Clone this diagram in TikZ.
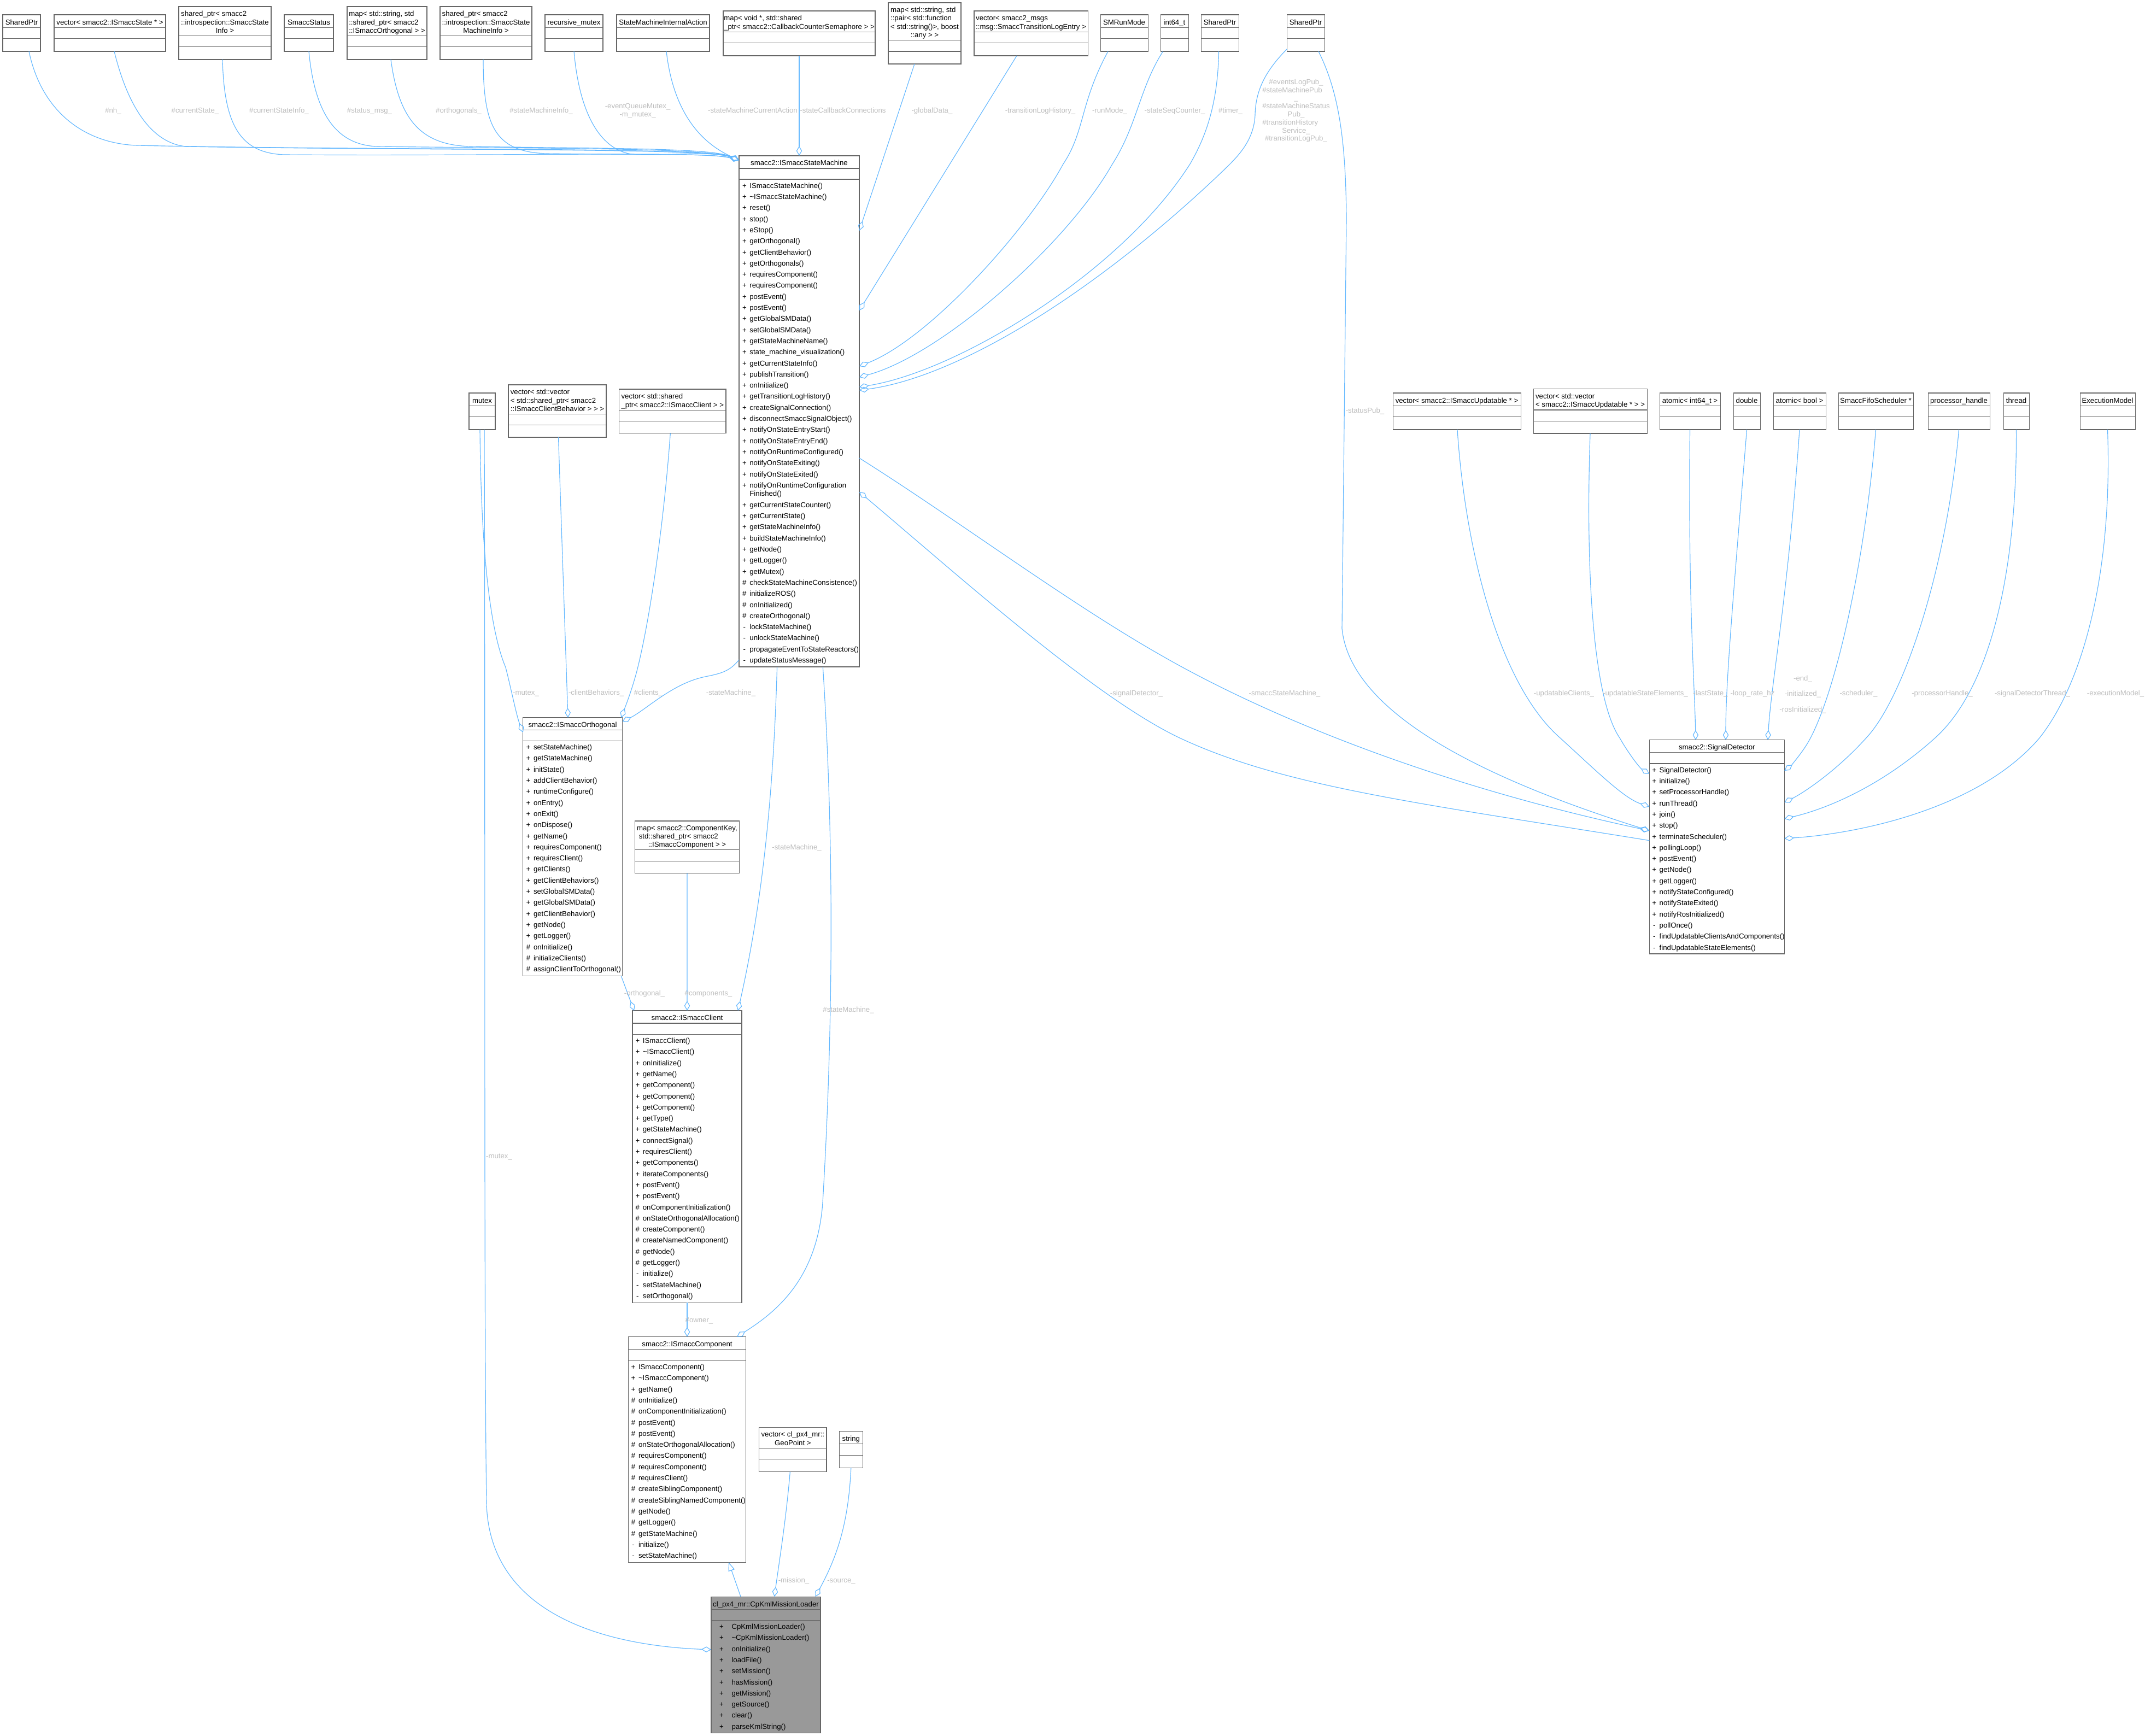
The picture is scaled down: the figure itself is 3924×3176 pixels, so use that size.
\documentclass[tikz,border=0pt]{standalone}
\usepackage{fontspec}
\setmainfont{Liberation Sans}
\usetikzlibrary{arrows.meta,calc}
\definecolor{edgec}{HTML}{63B8FF}
\definecolor{boxc}{HTML}{666666}
\definecolor{labc}{HTML}{BEBEBE}
\definecolor{mainfill}{HTML}{999999}
\newcommand\mrow[2]{\makebox[8pt][c]{#1}\hspace{5.5pt}#2}
\newcommand\krow[2]{\makebox[8pt][c]{#1}\hspace{14.6pt}#2}
\newcommand\mcont[1]{\makebox[13.5pt]{}#1}
\newcommand\lc[1]{\multicolumn{1}{@{}c@{}}{#1}}
\tikzset{
 boxshape/.style={draw=boxc, line width=1.05pt, fill=white, inner sep=0pt, outer sep=0pt, rectangle},
 boxrule/.style={draw=boxc, line width=1.05pt},
 titletext/.style={inner sep=0pt, font=\fontsize{13.2}{15.3}\selectfont},
 methtext/.style={inner sep=0pt, align=left, anchor=north west, font=\fontsize{13.2}{20.3}\selectfont},
 elabel/.style={inner sep=0pt, text=labc, font=\fontsize{13.2}{14.8}\selectfont, text height=9.5pt, text depth=0pt},
 elabelm/.style={inner sep=0pt, text=labc, font=\fontsize{13.2}{14.8}\selectfont},
 edge/.style={draw=edgec, line width=1.15pt},
 agg/.style={edge, -{Diamond[open,length=18pt,width=10.5pt]}},
 inh/.style={edge, -{Triangle[open,length=16pt,width=12pt]}},
}
% [style]{name}{x1}{y1}{x2}{y2}{title h}{attr h}{title}
\newcommand\ubox[9][]{%
 \node[boxshape,#1,anchor=north west,minimum width={(#5-#3)*1pt},minimum height={(#6-#4)*1pt}] (#2) at (#3,#4) {};
 \draw[boxrule] ($(#2.north west)+(0,#7)$) -- ($(#2.north east)+(0,#7)$);
 \draw[boxrule] ($(#2.north west)+(0,#7+#8)$) -- ($(#2.north east)+(0,#7+#8)$);
 \node[titletext] (#2t) at ($(#2.north)+(0,#7/2+3.3)$) {\begin{tabular}{@{}l@{}}#9\end{tabular}};
}
\begin{document}
\begin{tikzpicture}[x=1pt,y=-1pt]
\fill[white] (0,0) rectangle (3924,3176);
\useasboundingbox (0,0) rectangle (3924,3176);

% ---------- top row ----------
\ubox{sp1}{5}{27}{74}{94}{23.3}{20.3}{SharedPtr}
\ubox{vst}{99}{27}{303}{94}{23.3}{20.3}{vector< smacc2::ISmaccState * >}
\ubox{ssi}{327}{12}{496}{109}{53.3}{20.6}{shared\_ptr< smacc2\\::introspection::SmaccState\\\lc{Info >}}
\ubox{sst}{520}{27}{610}{94}{23.3}{20.3}{SmaccStatus}
\ubox{mor}{635}{12}{781}{109}{53.3}{20.6}{map< std::string, std\\::shared\_ptr< smacc2\\\lc{::ISmaccOrthogonal > >}}
\ubox{smi}{805}{12}{973}{109}{53.3}{20.6}{shared\_ptr< smacc2\\::introspection::SmaccState\\\lc{MachineInfo >}}
\ubox{rmx}{997}{27}{1103}{94}{23.3}{20.3}{recursive\_mutex}
\ubox{sia}{1128}{27}{1298}{94}{23.3}{20.3}{StateMachineInternalAction}
\ubox{cbc}{1323}{20}{1601}{102}{38.3}{20.4}{map< void *, std::shared\\\lc{\_ptr< smacc2::CallbackCounterSemaphore > >}}
\ubox{gdt}{1625}{5}{1758}{117}{68.3}{20.7}{map< std::string, std\\::pair< std::function\\< std::string()>, boost\\\lc{::any > >}}
\ubox{tlh}{1782}{20}{1990}{102}{38.3}{20.4}{vector< smacc2\_msgs\\\lc{::msg::SmaccTransitionLogEntry >}}
\ubox{srm}{2013}{27}{2100}{94}{23.3}{20.3}{SMRunMode}
\ubox{i64}{2123}{27}{2174}{94}{23.3}{20.3}{int64\_t}
\ubox{sp2}{2197}{27}{2266}{94}{23.3}{20.3}{SharedPtr}
\ubox{sp3}{2354}{27}{2423}{94}{23.3}{20.3}{SharedPtr}

% ---------- second row ----------
\ubox{mtx}{858}{719}{906}{786}{23.3}{20.3}{mutex}
\ubox{vcb}{930}{704}{1109}{800}{53.3}{20.6}{vector< std::vector\\< std::shared\_ptr< smacc2\\\lc{::ISmaccClientBehavior > > >}}
\ubox{vcl}{1132.6}{712}{1328}{792.6}{38.3}{20.4}{vector< std::shared\\\lc{\_ptr< smacc2::ISmaccClient > >}}
\ubox{vup}{2548}{719}{2782}{786}{23.3}{20.3}{vector< smacc2::ISmaccUpdatable * >}
\ubox{vvu}{2805}{711.7}{3013}{793}{38.3}{20.4}{vector< std::vector\\\lc{< smacc2::ISmaccUpdatable * > >}}
\ubox{ai64}{3036}{719}{3147}{786}{23.3}{20.3}{atomic< int64\_t >}
\ubox{dbl}{3171}{719}{3220}{786}{23.3}{20.3}{double}
\ubox{abool}{3244}{719}{3340}{786}{23.3}{20.3}{atomic< bool >}
\ubox{sfs}{3363}{719}{3500}{786}{23.3}{20.3}{SmaccFifoScheduler *}
\ubox{ph}{3527}{719}{3640}{786}{23.3}{20.3}{processor\_handle}
\ubox{thr}{3665}{719}{3712}{786}{23.3}{20.3}{thread}
\ubox{exm}{3805}{719}{3906}{786}{23.3}{20.3}{ExecutionModel}
\ubox{ck}{1161.6}{1502}{1352.3}{1597.5}{52.4}{21.2}{map< smacc2::ComponentKey,\\\hspace*{3.7pt}std::shared\_ptr< smacc2\\\lc{::ISmaccComponent > >}}

% ---------- main classes ----------
\ubox{sm}{1352}{285}{1572}{1220}{23}{20}{smacc2::ISmaccStateMachine}
\node[methtext] (smm) at ($(sm.north west)+(5.7,49)$) {\rule{0pt}{10pt}\mrow{+}{ISmaccStateMachine()}\\
\mrow{+}{\textasciitilde ISmaccStateMachine()}\\
\mrow{+}{reset()}\\
\mrow{+}{stop()}\\
\mrow{+}{eStop()}\\
\mrow{+}{getOrthogonal()}\\
\mrow{+}{getClientBehavior()}\\
\mrow{+}{getOrthogonals()}\\
\mrow{+}{requiresComponent()}\\
\mrow{+}{requiresComponent()}\\
\mrow{+}{postEvent()}\\
\mrow{+}{postEvent()}\\
\mrow{+}{getGlobalSMData()}\\
\mrow{+}{setGlobalSMData()}\\
\mrow{+}{getStateMachineName()}\\
\mrow{+}{state\_machine\_visualization()}\\
\mrow{+}{getCurrentStateInfo()}\\
\mrow{+}{publishTransition()}\\
\mrow{+}{onInitialize()}\\
\mrow{+}{getTransitionLogHistory()}\\
\mrow{+}{createSignalConnection()}\\
\mrow{+}{disconnectSmaccSignalObject()}\\
\mrow{+}{notifyOnStateEntryStart()}\\
\mrow{+}{notifyOnStateEntryEnd()}\\
\mrow{+}{notifyOnRuntimeConfigured()}\\
\mrow{+}{notifyOnStateExiting()}\\
\mrow{+}{notifyOnStateExited()}\\
\mrow{+}{notifyOnRuntimeConfiguration}\\[-5pt]
\mcont{Finished()}\\[0.4pt]
\mrow{+}{getCurrentStateCounter()}\\
\mrow{+}{getCurrentState()}\\
\mrow{+}{getStateMachineInfo()}\\
\mrow{+}{buildStateMachineInfo()}\\
\mrow{+}{getNode()}\\
\mrow{+}{getLogger()}\\
\mrow{+}{getMutex()}\\
\mrow{\#}{checkStateMachineConsistence()}\\
\mrow{\#}{initializeROS()}\\
\mrow{\#}{onInitialized()}\\
\mrow{\#}{createOrthogonal()}\\
\mrow{-}{lockStateMachine()}\\
\mrow{-}{unlockStateMachine()}\\
\mrow{-}{propagateEventToStateReactors()}\\
\mrow{-}{updateStatusMessage()}};

\ubox{orth}{956.8}{1313}{1138.4}{1785.8}{22.6}{19.8}{smacc2::ISmaccOrthogonal}
\node[methtext] (orthm) at ($(orth.north west)+(5.5,48.4)$) {\rule{0pt}{10pt}\mrow{+}{setStateMachine()}\\
\mrow{+}{getStateMachine()}\\
\mrow{+}{initState()}\\
\mrow{+}{addClientBehavior()}\\
\mrow{+}{runtimeConfigure()}\\
\mrow{+}{onEntry()}\\
\mrow{+}{onExit()}\\
\mrow{+}{onDispose()}\\
\mrow{+}{getName()}\\
\mrow{+}{requiresComponent()}\\
\mrow{+}{requiresClient()}\\
\mrow{+}{getClients()}\\
\mrow{+}{getClientBehaviors()}\\
\mrow{+}{setGlobalSMData()}\\
\mrow{+}{getGlobalSMData()}\\
\mrow{+}{getClientBehavior()}\\
\mrow{+}{getNode()}\\
\mrow{+}{getLogger()}\\
\mrow{\#}{onInitialize()}\\
\mrow{\#}{initializeClients()}\\
\mrow{\#}{assignClientToOrthogonal()}};

\ubox{cli}{1157}{1849}{1357}{2383}{23}{20.3}{smacc2::ISmaccClient}
\node[methtext] (clim) at ($(cli.north west)+(5.2,49.3)$) {\rule{0pt}{10pt}\mrow{+}{ISmaccClient()}\\
\mrow{+}{\textasciitilde ISmaccClient()}\\
\mrow{+}{onInitialize()}\\
\mrow{+}{getName()}\\
\mrow{+}{getComponent()}\\
\mrow{+}{getComponent()}\\
\mrow{+}{getComponent()}\\
\mrow{+}{getType()}\\
\mrow{+}{getStateMachine()}\\
\mrow{+}{connectSignal()}\\
\mrow{+}{requiresClient()}\\
\mrow{+}{getComponents()}\\
\mrow{+}{iterateComponents()}\\
\mrow{+}{postEvent()}\\
\mrow{+}{postEvent()}\\
\mrow{\#}{onComponentInitialization()}\\
\mrow{\#}{onStateOrthogonalAllocation()}\\
\mrow{\#}{createComponent()}\\
\mrow{\#}{createNamedComponent()}\\
\mrow{\#}{getNode()}\\
\mrow{\#}{getLogger()}\\
\mrow{-}{initialize()}\\
\mrow{-}{setStateMachine()}\\
\mrow{-}{setOrthogonal()}};

\ubox{comp}{1149.3}{2445.7}{1364.7}{2858}{23}{20.6}{smacc2::ISmaccComponent}
\node[methtext] (compm) at ($(comp.north west)+(5,49.6)$) {\rule{0pt}{10pt}\mrow{+}{ISmaccComponent()}\\
\mrow{+}{\textasciitilde ISmaccComponent()}\\
\mrow{+}{getName()}\\
\mrow{\#}{onInitialize()}\\
\mrow{\#}{onComponentInitialization()}\\
\mrow{\#}{postEvent()}\\
\mrow{\#}{postEvent()}\\
\mrow{\#}{onStateOrthogonalAllocation()}\\
\mrow{\#}{requiresComponent()}\\
\mrow{\#}{requiresComponent()}\\
\mrow{\#}{requiresClient()}\\
\mrow{\#}{createSiblingComponent()}\\
\mrow{\#}{createSiblingNamedComponent()}\\
\mrow{\#}{getNode()}\\
\mrow{\#}{getLogger()}\\
\mrow{\#}{getStateMachine()}\\
\mrow{-}{initialize()}\\
\mrow{-}{setStateMachine()}};

\ubox{geo}{1388.7}{2611}{1512}{2692.7}{38}{20.3}{vector< cl\_px4\_mr::\\\lc{GeoPoint >}}
\ubox{str}{1535.3}{2618.7}{1578.3}{2685.3}{23}{20.6}{string}

\ubox[fill=mainfill]{cpk}{1301}{2921}{1501}{3170.7}{23.3}{20}{cl\_px4\_mr::CpKmlMissionLoader}
\node[methtext] (cpkm) at ($(cpk.north west)+(14.7,49.3)$) {\rule{0pt}{10pt}\krow{+}{CpKmlMissionLoader()}\\
\krow{+}{\textasciitilde CpKmlMissionLoader()}\\
\krow{+}{onInitialize()}\\
\krow{+}{loadFile()}\\
\krow{+}{setMission()}\\
\krow{+}{hasMission()}\\
\krow{+}{getMission()}\\
\krow{+}{getSource()}\\
\krow{+}{clear()}\\
\krow{+}{parseKmlString()}};

\ubox{sd}{3017.3}{1353.7}{3264.3}{1745}{23}{20.3}{smacc2::SignalDetector}
\node[methtext] (sdm) at ($(sd.north west)+(4.7,49.3)$) {\rule{0pt}{10pt}\mrow{+}{SignalDetector()}\\
\mrow{+}{initialize()}\\
\mrow{+}{setProcessorHandle()}\\
\mrow{+}{runThread()}\\
\mrow{+}{join()}\\
\mrow{+}{stop()}\\
\mrow{+}{terminateScheduler()}\\
\mrow{+}{pollingLoop()}\\
\mrow{+}{postEvent()}\\
\mrow{+}{getNode()}\\
\mrow{+}{getLogger()}\\
\mrow{+}{notifyStateConfigured()}\\
\mrow{+}{notifyStateExited()}\\
\mrow{+}{notifyRosInitialized()}\\
\mrow{-}{pollOnce()}\\
\mrow{-}{findUpdatableClientsAndComponents()}\\
\mrow{-}{findUpdatableStateElements()}};

% ---------- edges into ISmaccStateMachine (top left) ----------
\draw[agg] ([xshift=13.5pt]sp1.south) .. controls (75,200) and (150,262) .. (250,266) .. controls (700,276) and (1290,268) .. ([yshift=-8pt]sm.north west);
\draw[agg] ([xshift=8pt]vst.south) .. controls (235,200) and (280,262) .. (340,268) .. controls (800,276) and (1290,270) .. ([yshift=-8pt]sm.north west);
\draw[agg] ([xshift=-4.5pt]ssi.south) .. controls (410,230) and (440,280) .. (520,283) .. controls (900,286) and (1290,276) .. ([yshift=-8pt]sm.north west);
\draw[agg] (sst.south) .. controls (575,200) and (610,265) .. (690,268) .. controls (1000,272) and (1290,270) .. ([yshift=-8pt]sm.north west);
\draw[agg] ([xshift=7pt]mor.south) .. controls (730,220) and (770,265) .. (860,268) .. controls (1100,272) and (1300,270) .. ([yshift=-8pt]sm.north west);
\draw[agg] ([xshift=-5pt]smi.south) .. controls (884,230) and (905,278) .. (1000,281) .. controls (1200,284) and (1300,280) .. ([yshift=-8pt]sm.north west);
\draw[agg] (rmx.south) .. controls (1060,210) and (1100,280) .. (1165,283) .. controls (1230,285) and (1310,275) .. ([yshift=-8pt]sm.north west);
\draw[agg] ([xshift=6pt]sia.south) .. controls (1230,190) and (1270,255) .. ([yshift=-8pt]sm.north west);
\draw[agg] (cbc.south) -- (sm.north);

% ---------- edges into ISmaccStateMachine (right) ----------
\draw[agg] ([xshift=-18.5pt]gdt.south) -- ([yshift=-137pt]sm.north east);
\draw[agg] ([xshift=-26pt]tlh.south) -- ([yshift=-283pt]sm.north east);
\draw[agg] ([xshift=-29.5pt]srm.south) .. controls (1975,190) and (1985,240) .. (1945,300) .. controls (1880,420) and (1700,620) .. ([yshift=-385pt]sm.north east);
\draw[agg] ([xshift=-21pt]i64.south) .. controls (2085,160) and (2080,230) .. (2035,300) .. controls (1950,450) and (1720,650) .. ([yshift=-405pt]sm.north east);
\draw[agg] ([xshift=-2pt]sp2.south) .. controls (2228,200) and (2200,260) .. (2177,300) .. controls (2050,500) and (1750,680) .. ([yshift=-423pt]sm.north east);
\draw[agg] ([yshift=4pt]sp3.south west) .. controls (2320,125) and (2297,160) .. (2296,210) .. controls (2294,260) and (2260,290) .. (2240,310) .. controls (2000,540) and (1750,690) .. ([yshift=-429pt]sm.north east);
\draw[agg] ([yshift=-184pt]sd.north west) .. controls (2600,1470) and (2350,1440) .. (2158,1350) .. controls (2000,1275) and (1750,1050) .. ([yshift=-615pt]sm.north east);

% ---------- edges into SignalDetector ----------
\draw[agg] ([yshift=-553pt]sm.north east) .. controls (1750,950) and (1950,1100) .. (2126,1200) .. controls (2300,1300) and (2600,1430) .. ([yshift=-166pt]sd.north west);
\draw[agg] ([xshift=23.5pt]sp3.south) .. controls (2450,170) and (2462,260) .. (2463,400) -- (2455,1150) .. controls (2470,1300) and (2700,1420) .. ([yshift=-166pt]sd.north west);
\draw[agg] ([xshift=1pt]vup.south) .. controls (2680,1000) and (2740,1250) .. (2854,1350) .. controls (2920,1410) and (2970,1460) .. ([yshift=-122pt]sd.north west);
\draw[agg] (vvu.south) .. controls (2900,1050) and (2915,1280) .. (2963,1350) .. controls (2980,1380) and (3000,1405) .. ([yshift=-62pt]sd.north west);
\draw[agg] (ai64.south) .. controls (3088,1100) and (3100,1250) .. ([xshift=-38.8pt]sd.north);
\draw[agg] (dbl.south) .. controls (3170,1100) and (3157,1250) .. ([xshift=16.2pt]sd.north);
\draw[agg] (abool.south) .. controls (3270,1100) and (3240,1250) .. ([xshift=93.2pt]sd.north);
\draw[agg] (sfs.south) .. controls (3410,1050) and (3350,1300) .. (3300,1370) .. controls (3290,1385) and (3275,1402) .. ([yshift=-56.3pt]sd.north east);
\draw[agg] (ph.south) .. controls (3560,1050) and (3480,1280) .. (3414,1350) .. controls (3360,1410) and (3300,1450) .. ([yshift=-114.3pt]sd.north east);
\draw[agg] (thr.south) .. controls (3690,1050) and (3640,1260) .. (3540,1350) .. controls (3440,1440) and (3340,1480) .. ([yshift=-144.3pt]sd.north east);
\draw[agg] (exm.south) .. controls (3865,1050) and (3810,1250) .. (3731,1350) .. controls (3620,1480) and (3400,1525) .. ([yshift=-180.3pt]sd.north east);

% ---------- left group ----------
\draw[agg] ([xshift=-4pt]mtx.south) .. controls (880,1000) and (895,1150) .. (925,1221) .. controls (935,1260) and (945,1310) .. ([yshift=-27pt]orth.north west);
\draw[agg] ([xshift=4pt]mtx.south) .. controls (888,1500) and (885,2400) .. (890,2750) .. controls (895,2950) and (1100,3010) .. ([yshift=-97pt]cpk.north west);
\draw[agg] ([xshift=2pt]vcb.south) -- ([xshift=-8.6pt]orth.north);
\draw[agg] ([xshift=-4pt]vcl.south) .. controls (1215,950) and (1190,1130) .. (1165,1228) .. controls (1155,1265) and (1145,1290) .. ([xshift=-2pt]orth.north east);
\draw[agg] ([yshift=13pt]sm.south west) .. controls (1335,1228) and (1320,1232) .. (1290,1238) .. controls (1230,1250) and (1180,1300) .. ([yshift=-7pt]orth.north east);
\draw[agg] ([xshift=-2pt]orth.south east) -- ([xshift=3pt]cli.north west);
\draw[agg] (ck.south) -- (cli.north);
\draw[agg] ([xshift=-40.4pt]sm.south) .. controls (1415,1450) and (1395,1650) .. ([xshift=-7pt]cli.north east);
\draw[agg] ([xshift=43.3pt]sm.south) .. controls (1530,1600) and (1520,1950) .. (1505,2200) .. controls (1495,2340) and (1420,2400) .. ([xshift=-16.7pt]comp.north east);
\draw[agg] (cli.south) -- (comp.north);
\draw[inh] ([xshift=-46pt]cpk.north) -- ([xshift=76pt]comp.south);
\draw[agg] ([xshift=-5pt]geo.south) .. controls (1438,2780) and (1425,2860) .. ([xshift=15.7pt]cpk.north);
\draw[agg] (str.south) .. controls (1552,2790) and (1530,2850) .. ([xshift=-9.3pt]cpk.north east);

% ---------- labels ----------
\node[elabel] (l01) at (207,202) {\#nh\_};
\node[elabel] (l02) at (357,202) {\#currentState\_};
\node[elabel] (l03) at (510.5,202) {\#currentStateInfo\_};
\node[elabel] (l04) at (676,202) {\#status\_msg\_};
\node[elabel] (l05) at (839,202) {\#orthogonals\_};
\node[elabel] (l06) at (990,202) {\#stateMachineInfo\_};
\node[elabelm] (l07) at (1166.6,203) {\begin{tabular}{@{}c@{}}-eventQueueMutex\_\\-m\_mutex\_\end{tabular}};
\node[elabel] (l08) at (1377,202) {-stateMachineCurrentAction};
\node[elabel] (l09) at (1542,202) {-stateCallbackConnections};
\node[elabel] (l10) at (1705,202) {-globalData\_};
\node[elabel] (l11) at (1903,202) {-transitionLogHistory\_};
\node[elabel] (l12) at (2030,202) {-runMode\_};
\node[elabel] (l13) at (2149,202) {-stateSeqCounter\_};
\node[elabel] (l14) at (2251,202) {\#timer\_};
\node[elabelm] (l15) at (2371,203.1) {\begin{tabular}{@{}l@{}}\lc{\#eventsLogPub\_}\\\#stateMachinePub\\\lc{\_}\\\#stateMachineStatus\\\lc{Pub\_}\\\#transitionHistory\\\lc{Service\_}\\\lc{\#transitionLogPub\_}\end{tabular}};
\node[elabel] (l16) at (2497,751) {-statusPub\_};
\node[elabel] (l17) at (962,1267) {-mutex\_};
\node[elabel] (l18) at (1090.7,1267) {-clientBehaviors\_};
\node[elabel] (l19) at (1186,1267) {\#clients\_};
\node[elabel] (l20) at (1337,1267) {-stateMachine\_};
\node[elabel] (l21) at (913,2115) {-mutex\_};
\node[elabel] (l22) at (1179,1817) {-orthogonal\_};
\node[elabel] (l23) at (1296,1817) {\#components\_};
\node[elabel] (l24) at (1457.6,1550) {-stateMachine\_};
\node[elabel] (l25) at (1279,2415) {\#owner\_};
\node[elabel] (l26) at (1552,1847) {\#stateMachine\_};
\node[elabel] (l27) at (1452,2890.7) {-mission\_};
\node[elabel] (l28) at (1539,2890.7) {-source\_};
\node[elabel] (l29) at (2079,1268) {-signalDetector\_};
\node[elabel] (l30) at (2350,1268) {-smaccStateMachine\_};
\node[elabel] (l31) at (2861,1268) {-updatableClients\_};
\node[elabel] (l32) at (3010,1268) {-updatableStateElements\_};
\node[elabel] (l33) at (3129,1268) {-lastState\_};
\node[elabel] (l34) at (3206,1268) {-loop\_rate\_hz};
\node[elabelm] (l35) at (3298,1271) {\begin{tabular}{@{}c@{}}-end\_\\[13.7pt]-initialized\_\\[13.7pt]-rosInitialized\_\end{tabular}};
\node[elabel] (l36) at (3400,1268) {-scheduler\_};
\node[elabel] (l37) at (3553,1268) {-processorHandle\_};
\node[elabel] (l38) at (3718,1268) {-signalDetectorThread\_};
\node[elabel] (l39) at (3870,1268) {-executionModel\_};
\end{tikzpicture}
\end{document}
